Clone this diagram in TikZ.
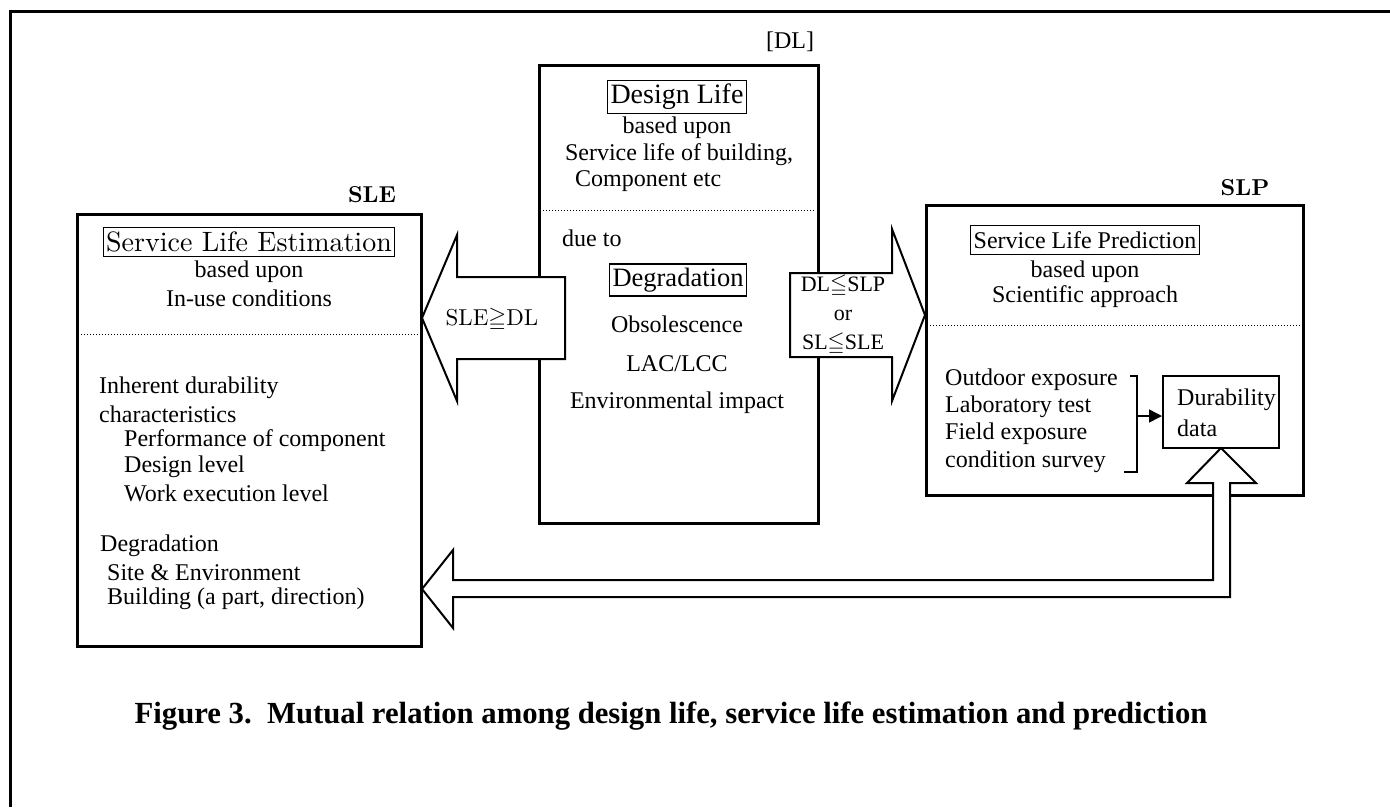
\documentclass[tikz,border=0pt]{standalone}
\usepackage{amssymb}
\usepackage{fontspec}
\newfontfamily\timesf{Liberation Serif}
\newfontfamily\cent{lmroman10-regular}[Extension=.otf, BoldFont=lmroman10-bold]
\usetikzlibrary{arrows.meta}
\begin{document}
\begin{tikzpicture}[x=1pt,y=-1pt,
  bigbox/.style={draw, line width=3pt, inner sep=0, anchor=north west},
  tbox/.style={draw, line width=1.2pt, inner xsep=3pt, inner ysep=4pt, font=\timesf\fontsize{28}{32}\selectfont},
  tx/.style={inner sep=0, font=\timesf\fontsize{24}{27}\selectfont},
  lbl/.style={inner sep=0, font=\cent\bfseries\fontsize{23}{27}\selectfont},
  dotline/.style={dotted, line width=1pt},
  hollow/.style={draw, fill=white, line width=2pt, line join=miter},
  frame/.style={line width=3pt}]
\useasboundingbox (0,0) rectangle (1390,807);
% outer frame
\draw[frame] (10,807) -- (10,11) -- (1390,11);

% boxes
\node[bigbox, minimum width=344, minimum height=432] (sle) at (76,213) {};
\node[bigbox, minimum width=279, minimum height=458] (dl) at (538,64) {};
\node[bigbox, minimum width=377, minimum height=290] (slp) at (925,204) {};

% labels
\node[lbl] (lsle) at (372,195) {SLE};
\node[tx] (ldl) at (790,42) {[DL]};
\node[lbl] (lslp) at (1245,188) {SLP};

% SLE content
\node[tbox, font=\cent\fontsize{28}{32}\selectfont] (tsle) at (249,242) {Service Life Estimation};
\node[tx] (s1) at (249,272) {based upon};
\node[tx] (s2) at (249,298) {In-use conditions};
\draw[dotline] (78,334) -- (418,334);
\node[tx, anchor=west] (s3) at (99,388) {Inherent durability};
\node[tx, anchor=west] (s4) at (99,414) {characteristics};
\node[tx, anchor=west] (s5) at (124,441) {Performance of component};
\node[tx, anchor=west] (s6) at (124,467) {Design level};
\node[tx, anchor=west] (s7) at (124,493) {Work execution level};
\node[tx, anchor=west] (s8) at (100,546) {Degradation};
\node[tx, anchor=west] (s9) at (107,573) {Site \& Environment};
\node[tx, anchor=west] (s10) at (107,599) {Building (a part, direction)};

% DL content
\node[tbox] (tdl) at (677,97) {Design Life};
\node[tx] (d1) at (677,128) {based upon};
\node[tx] (d2) at (679,155) {Service life of building,};
\node[tx, anchor=west] (d3) at (575,181) {Component etc};
\draw[dotline] (540,210) -- (815,210);
\node[tx, anchor=west] (d4) at (562,238) {due to};
\node[tbox, font=\timesf\fontsize{26.5}{30}\selectfont] (tdeg) at (678,280) {Degradation};
\node[tx] (d5) at (677,324) {Obsolescence};
\node[tx] (d6) at (677,364) {LAC/LCC};
\node[tx] (d7) at (677,403) {Environmental impact};

% SLP content
\node[tbox, inner ysep=6pt, font=\timesf\fontsize{24}{28}\selectfont] (tslp) at (1085,240) {Service Life Prediction};
\node[tx] (p1) at (1085,272) {based upon};
\node[tx] (p2) at (1085,297) {Scientific approach};
\draw[dotline] (927,325) -- (1300,325);
\node[tx, anchor=west] (p3) at (945,380) {Outdoor exposure};
\node[tx, anchor=west] (p4) at (945,407) {Laboratory test};
\node[tx, anchor=west] (p5) at (945,434) {Field exposure};
\node[tx, anchor=west] (p6) at (945,462) {condition survey};
\draw[line width=1.5pt] (1130,376) -- (1137,376) -- (1137,472) -- (1124,472);
\coordinate (br) at (1137,416);
\node[draw, line width=1.5pt, inner sep=0, anchor=north west, minimum width=116, minimum height=72] (dur) at (1162,375) {};
\node[tx, anchor=west] (p7) at (1177,400) {Durability};
\node[tx, anchor=west] (p8) at (1177,428) {data};
\draw[line width=1.5pt, -{Triangle[length=13pt,width=13pt]}] (br) -- (br -| dur.west);

% block arrows
\draw[hollow] (565,277) -- (457,277) -- (457,235) -- (422,318) -- (457,401) -- (457,359) -- (565,359) -- cycle;
\node[inner sep=0, font=\cent\fontsize{23}{27}\selectfont] (a1) at (492,320) {SLE$\geqq$DL};

\draw[hollow] (790,273) -- (892,273) -- (892,229) -- (925,315) -- (892,401) -- (892,357) -- (790,357) -- cycle;
\node[tx, font=\timesf\fontsize{22}{27}\selectfont] (a2) at (843,286) {DL$\leqq$SLP};
\node[tx, font=\timesf\fontsize{22}{27}\selectfont] (a3) at (843,315) {or};
\node[tx, font=\timesf\fontsize{22}{27}\selectfont] (a4) at (843,344) {SL$\leqq$SLE};

\draw[hollow] (1221,448) -- (1256,483) -- (1230,483) -- (1230,597) -- (453,597) -- (453,628) -- (422,589) -- (453,550) -- (453,580) -- (1213,580) -- (1213,483) -- (1187,483) -- cycle;

% caption
\node[inner sep=0, font=\timesf\bfseries\fontsize{30.7}{34}\selectfont] (cap) at (671,716) {Figure 3.\ \ Mutual relation among design life, service life estimation and prediction};
\end{tikzpicture}
\end{document}
